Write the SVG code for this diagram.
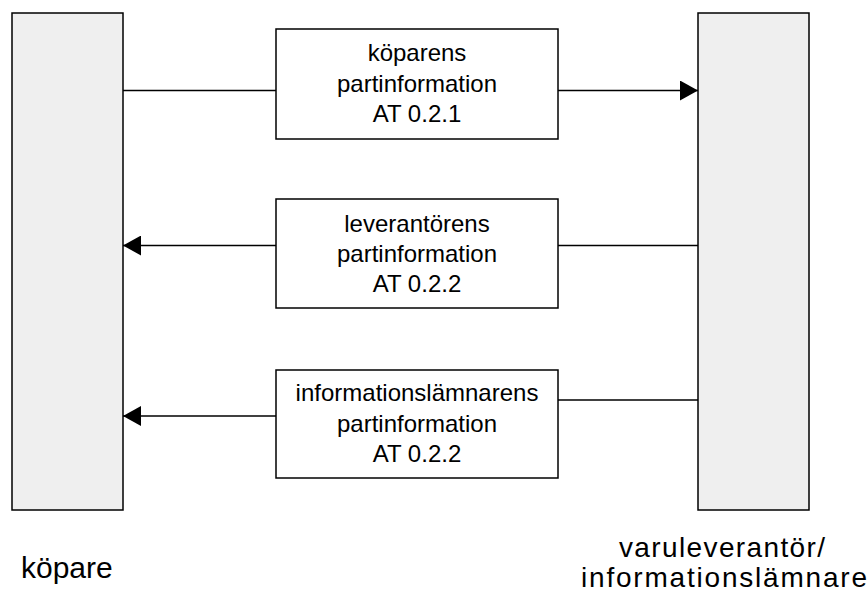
<svg xmlns="http://www.w3.org/2000/svg" width="868" height="596" viewBox="0 0 868 596">
<style>
.actor{fill:#efefef;stroke:#000;stroke-width:1.5}
.box{fill:#fff;stroke:#000;stroke-width:1.5}
.t{font-family:"Liberation Sans",Arial,sans-serif;font-size:24px;fill:#000;text-anchor:middle}
.lbl{font-family:"Liberation Sans",Arial,sans-serif;font-size:30px;fill:#000}
.lbl2{font-family:"Liberation Sans",Arial,sans-serif;font-size:28px;fill:#000}
.c{stroke:#000;stroke-width:1.5;fill:none}
</style>
<defs>
<marker id="ah" markerUnits="userSpaceOnUse" markerWidth="18" markerHeight="20" refX="18" refY="10" orient="auto" viewBox="0 0 18 20">
<path d="M0,0 L18,10 L0,20 z" fill="#000"/>
</marker>
</defs>
<g id="kopare">
<rect class="actor" x="12" y="13" width="111" height="497"/>
<text class="lbl" x="21" y="578">köpare</text>
</g>
<g id="varuleverantor">
<rect class="actor" x="698" y="13" width="111" height="497"/>
<text class="lbl2" x="619" y="557" textLength="206" lengthAdjust="spacing">varuleverantör/</text>
<text class="lbl2" x="581" y="587" textLength="286" lengthAdjust="spacing">informationslämnare</text>
</g>
<g id="msg1">
<rect class="box" x="276" y="29" width="282" height="110"/>
<text class="t" x="417" y="61">köparens</text>
<text class="t" x="417" y="92">partinformation</text>
<text class="t" x="417" y="122">AT 0.2.1</text>
</g>
<g id="msg2">
<rect class="box" x="276" y="199" width="282" height="109"/>
<text class="t" x="417" y="232">leverantörens</text>
<text class="t" x="417" y="262">partinformation</text>
<text class="t" x="417" y="292">AT 0.2.2</text>
</g>
<g id="msg3">
<rect class="box" x="276" y="370" width="282" height="108"/>
<text class="t" x="417" y="401">informationslämnarens</text>
<text class="t" x="417" y="432">partinformation</text>
<text class="t" x="417" y="462">AT 0.2.2</text>
</g>
<g id="connectors">
<line class="c" x1="123" y1="90.5" x2="276" y2="90.5"/>
<line class="c" x1="558" y1="90.5" x2="698" y2="90.5" marker-end="url(#ah)"/>
<line class="c" x1="698" y1="245.5" x2="558" y2="245.5"/>
<line class="c" x1="276" y1="245.5" x2="123" y2="245.5" marker-end="url(#ah)"/>
<line class="c" x1="698" y1="400" x2="558" y2="400"/>
<line class="c" x1="276" y1="416" x2="123" y2="416" marker-end="url(#ah)"/>
</g>
</svg>
